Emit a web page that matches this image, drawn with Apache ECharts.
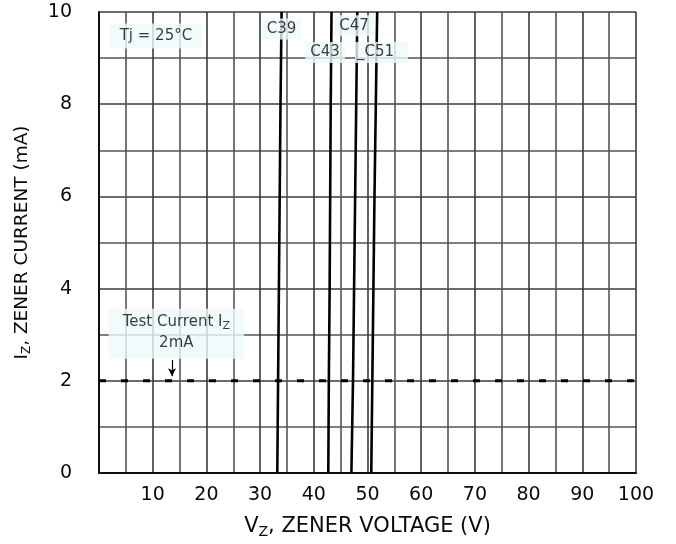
<!DOCTYPE html>
<html><head><meta charset="utf-8">
<script src="https://cdn.jsdelivr.net/npm/echarts@6/dist/echarts.min.js"></script>
<style>html,body{margin:0;padding:0;background:#fff}#c{width:676px;height:544px}</style>
</head><body><div id="c"></div>
<script>
// Data (Vz in V, Iz in mA)
const xTicks = [10,20,30,40,50,60,70,80,90,100];
const yTicks = [0,2,4,6,8,10];
const curveNames = ['C39','C43','C47','C51'];
const c39 = [[33.2,0],[33.35,2],[33.5,4],[33.65,6],[33.8,8],[34.0,10]];
const c43 = [[42.7,0],[42.8,2],[42.95,4],[43.05,6],[43.15,8],[43.3,10]];
const c47 = [[47.0,0],[47.3,2],[47.5,4],[47.7,6],[47.9,8],[48.1,10]];
const c51 = [[50.7,0],[50.9,2],[51.1,4],[51.3,6],[51.55,8],[51.8,10]];
const testCurrent = [[0,2],[100,2]];
const arrowFrom = [13.6,2.45], arrowTo = [13.6,2.1];
const curveLabels = [
  {text:'C39', at:[34.0,9.63]},
  {text:'C47', at:[47.5,9.70]},
  {text:'C43', at:[42.1,9.12]},
  {text:'_C51', at:[52.6,9.12]}
];
const tjLabel = {text:'Tj = 25°C', at:[10.6,9.48]};
const testLabel = {at:[14.4,3.02]};

const FONT = '"DejaVu Sans", "Liberation Sans", Arial, sans-serif';
const TXT = '#0a0a0a';
const boxBg = '#eefafb';
const chart = echarts.init(document.getElementById('c'));
const curves = [c39,c43,c47,c51];
const series = curves.map((d,i)=>({
  name: curveNames[i], type:'line', data:d, showSymbol:false, smooth:false,
  lineStyle:{color:'#000', width:2.6}, z:5, animation:false
}));
series.push({
  type:'line', data:testCurrent, showSymbol:false, z:6,
  lineStyle:{color:'#000', width:3, type:[7,15]}, animation:false,
  markLine:{silent:true, symbol:['none','arrow'], symbolSize:[6,8], animation:false,
    label:{show:false}, lineStyle:{color:'#000', width:1.2, type:'solid'},
    data:[[{coord:arrowFrom},{coord:arrowTo}]]}
});
const labelSeries = (items, extra) => ({
  type:'scatter', symbolSize:0, z:10, animation:false,
  data: items.map(it=>({value:it.at, label:Object.assign({formatter:it.text}, it.label||{})})),
  label:Object.assign({show:true, position:'inside', color:TXT, fontFamily:FONT,
    fontSize:15, backgroundColor:boxBg, padding:[3,5]}, extra||{})
});
curveLabels[3].label = {padding:[3,14,3,2]};
series.push(labelSeries(curveLabels));
series.push(labelSeries([tjLabel], {padding:[5,10]}));
series.push({
  type:'scatter', symbolSize:0, z:10, animation:false,
  data:[{value:testLabel.at}],
  label:{show:true, position:'inside', fontFamily:FONT, color:TXT, fontSize:15,
    backgroundColor:boxBg, padding:[3,14,5,14], align:'center', lineHeight:21,
    formatter:'{t|Test Current I}{s|Z}\n{t|2mA}',
    rich:{t:{fontSize:15, fontFamily:FONT, color:TXT, lineHeight:21},
          s:{fontSize:11, fontFamily:FONT, color:TXT, padding:[8,0,0,0]}}}
});

chart.setOption({
  backgroundColor:'#fff',
  animation:false,
  grid:{left:99, right:40, top:12, bottom:68, containLabel:false},
  xAxis:{
    type:'value', min:0, max:100, interval:10,
    name:'{a|V}{s|Z}{a|, ZENER VOLTAGE (V)}', nameLocation:'middle', nameGap:42,
    nameTextStyle:{rich:{a:{fontSize:21, fontFamily:FONT, color:TXT},
      s:{fontSize:14, fontFamily:FONT, color:TXT, padding:[10,0,0,0]}}},
    axisLine:{show:true, lineStyle:{color:'#111', width:2}},
    axisTick:{show:false},
    axisLabel:{showMinLabel:false, fontSize:19, fontFamily:FONT, color:TXT, margin:13,
      formatter:v=> xTicks.includes(v) ? String(v) : ''},
    splitLine:{show:true, lineStyle:{color:'#3a3a3a', width:1.6}},
    minorTick:{show:false, splitNumber:2},
    minorSplitLine:{show:true, lineStyle:{color:'#555', width:1.6}}
  },
  yAxis:{
    type:'value', min:0, max:10, interval:2,
    name:'{a|I}{s|Z}{a|, ZENER CURRENT (mA)}', nameLocation:'middle', nameGap:66, nameRotate:90,
    nameTextStyle:{rich:{a:{fontSize:18.5, fontFamily:FONT, color:TXT},
      s:{fontSize:12, fontFamily:FONT, color:TXT, padding:[9,0,0,0]}}},
    axisLine:{show:true, lineStyle:{color:'#111', width:2}},
    axisTick:{show:false},
    axisLabel:{fontSize:19, fontFamily:FONT, color:TXT, margin:27,
      formatter:v=> yTicks.includes(v) ? String(v) : ''},
    splitLine:{show:true, lineStyle:{color:'#3a3a3a', width:1.6}},
    minorTick:{show:false, splitNumber:2},
    minorSplitLine:{show:true, lineStyle:{color:'#555', width:1.6}}
  },
  series
});
</script></body></html>
